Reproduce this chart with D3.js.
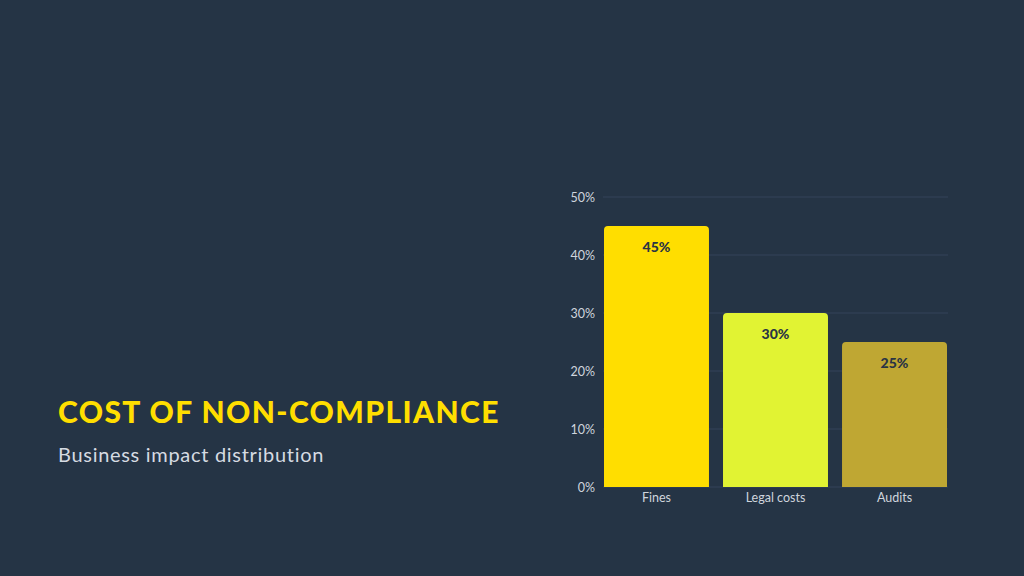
<!doctype html>
<html lang="en">
<head>
  <meta charset="utf-8">
  <script src="https://cdn.jsdelivr.net/npm/d3@7"></script>
  <title>Cost of Non-Compliance</title>
  <style>
    html, body { margin: 0; padding: 0; background: #253445; }
    svg { display: block; font-family: Lato, "Noto Sans", sans-serif; }
  </style>
</head>
<body>
  <svg id="chart" width="1024" height="576"></svg>
  <script>
    // chart data
    var categories = ["Fines", "Legal costs", "Audits"];
    var values = [45, 30, 25];
    var barColors = ["#FFDE00", "#E1F333", "#BFA733"];
    var yTicks = [0, 10, 20, 30, 40, 50];

    var svg = d3.select("#chart");
    svg.append("rect").attr("width", 1024).attr("height", 576).attr("fill", "#253445");

    var x = d3.scaleBand().domain(categories).range([604, 947]).paddingInner(0.118).paddingOuter(0);
    var y = d3.scaleLinear().domain([0, 50]).range([487, 197]);

    // gridlines
    svg.append("g")
      .selectAll("line")
      .data(yTicks)
      .enter()
      .append("line")
        .attr("x1", 603)
        .attr("x2", 948)
        .attr("y1", function(d) { return y(d); })
        .attr("y2", function(d) { return y(d); })
        .attr("stroke", "#34435a")
        .attr("stroke-width", 1);

    // y axis labels
    var yAxis = svg.append("g")
      .attr("transform", "translate(603,0)")
      .call(d3.axisLeft(y).tickValues(yTicks).tickSize(0).tickPadding(8).tickFormat(function(d) { return d + "%"; }));
    yAxis.select(".domain").remove();
    yAxis.selectAll("text")
      .attr("fill", "#cfd5dd")
      .style("font-size", "12.5px")
      .style("font-family", "Lato, sans-serif");

    // bars with rounded top corners
    function barPath(x0, w, yTop, yBot, r) {
      return "M" + x0 + "," + yBot +
        "V" + (yTop + r) +
        "Q" + x0 + "," + yTop + " " + (x0 + r) + "," + yTop +
        "H" + (x0 + w - r) +
        "Q" + (x0 + w) + "," + yTop + " " + (x0 + w) + "," + (yTop + r) +
        "V" + yBot + "Z";
    }
    svg.append("g")
      .selectAll("path")
      .data(values)
      .enter()
      .append("path")
        .attr("d", function(d, i) { return barPath(x(categories[i]), x.bandwidth(), y(d), y(0), 4); })
        .attr("fill", function(d, i) { return barColors[i]; });

    // value labels
    svg.append("g")
      .selectAll("text")
      .data(values)
      .enter()
      .append("text")
        .attr("x", function(d, i) { return x(categories[i]) + x.bandwidth() / 2; })
        .attr("y", function(d) { return y(d) + 26; })
        .attr("text-anchor", "middle")
        .attr("fill", "#2a3444")
        .style("font-size", "14px")
        .style("font-weight", "900")
        .text(function(d) { return d + "%"; });

    // x axis labels
    var xAxis = svg.append("g")
      .attr("transform", "translate(0,487)")
      .call(d3.axisBottom(x).tickSize(0).tickPadding(6));
    xAxis.select(".domain").remove();
    xAxis.selectAll("text")
      .attr("fill", "#cfd5dd")
      .style("font-size", "12.5px")
      .style("font-family", "Lato, sans-serif");

    // titles
    svg.append("text")
      .attr("x", 58)
      .attr("y", 423)
      .attr("fill", "#FFDE00")
      .style("font-size", "30px")
      .style("font-weight", "900")
      .style("letter-spacing", "1.4px")
      .text("COST OF NON-COMPLIANCE");

    svg.append("text")
      .attr("x", 58)
      .attr("y", 462)
      .attr("fill", "#d6dbe2")
      .style("font-size", "20px")
      .style("letter-spacing", "0.7px")
      .text("Business impact distribution");
  </script>
</body>
</html>
